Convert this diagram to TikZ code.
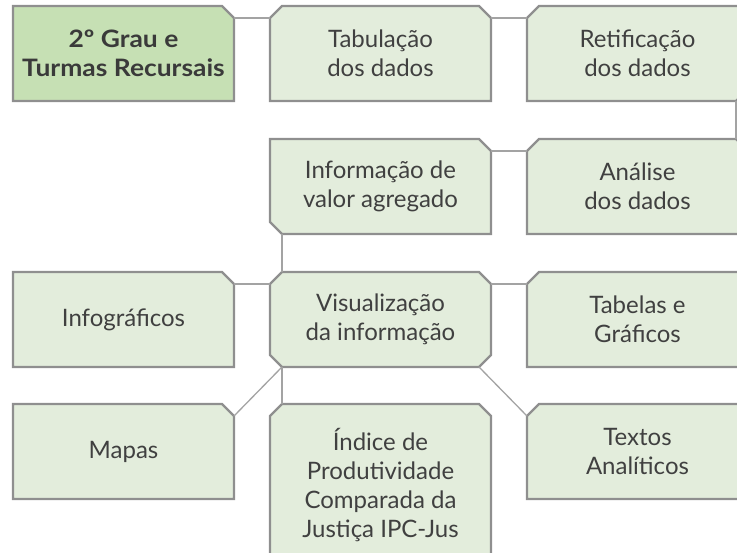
\documentclass[tikz,border=0pt]{standalone}
\usepackage{fontspec}
\setmainfont{Lato}
\newfontfamily\startfont[FakeStretch=1.1]{Lato Bold}
\usepackage{tikz}
\usetikzlibrary{positioning, calc, backgrounds}

\definecolor{boxfill}{HTML}{E3EDDC}
\definecolor{hifill}{HTML}{C6E0B4}
\definecolor{edgegray}{HTML}{8F8F8F}
\definecolor{linkgray}{HTML}{A3A3A3}
\definecolor{ink}{HTML}{404040}

% outline of a box with cut corners: node, then cut at nw, ne, se, sw
\newcommand{\cutbox}[6][boxfill]{%
  \begin{scope}[on background layer]
  \filldraw[fill=#1, draw=edgegray, line width=2.4pt]
    ($(#2.north west)+(0,-#3)$) -- ($(#2.north west)+(#3,0)$) --
    ($(#2.north east)+(-#4,0)$) -- ($(#2.north east)+(0,-#4)$) --
    ($(#2.south east)+(0,#5)$) -- ($(#2.south east)+(-#5,0)$) --
    ($(#2.south west)+(#6,0)$) -- ($(#2.south west)+(0,#6)$) -- cycle;
  \end{scope}}

\begin{document}
\begin{tikzpicture}[
  every node/.style={font=\fontsize{24}{29}\selectfont, text=ink},
  stage/.style={
    rectangle, minimum width=221pt, minimum height=95pt,
    outer sep=0pt, inner sep=0pt, align=center
  },
  start/.style={stage, font=\fontsize{24}{29}\selectfont\startfont, text=ink!90!black},
  link/.style={draw=linkgray, line width=1.3pt}
]
\useasboundingbox (0,0) rectangle (737pt,-553pt);
\clip (0,0) rectangle (737pt,-553pt);

% --- Row 1 ---
\node[start, anchor=north west] (grau) at (13pt,-6pt) {2º Grau e\\Turmas Recursais};
\node[stage, right=36pt of grau] (tab) {Tabulação\\dos dados};
\node[stage, right=36pt of tab] (ret) {Retificação\\dos dados};

% --- Row 2 ---
\node[stage, below=38pt of tab] (info) {Informação de\\valor agregado};
\node[stage, right=36pt of info] (ana) {Análise\\dos dados};

% --- Row 3 ---
\node[stage, below=38pt of info] (vis) {Visualização\\da informação};
\node[stage, left=36pt of vis] (infog) {Infográficos};
\node[stage, right=36pt of vis] (tabgraf) {Tabelas e\\Gráficos};

% --- Row 4 ---
\node[stage, below=37pt of vis, minimum height=162pt] (indice)
  {Índice de\\Produtividade\\Comparada da\\Justiça IPC-Jus};
\node[stage, below=37pt of infog] (mapas) {Mapas};
\node[stage, below=37pt of tabgraf] (textos) {Textos\\Analíticos};

% --- Outlines (nw, ne, se, sw) ---
\cutbox[hifill]{grau}{0pt}{12pt}{0pt}{0pt}
\cutbox{tab}{12pt}{12pt}{0pt}{0pt}
\cutbox{ret}{12pt}{0pt}{12pt}{0pt}
\cutbox{info}{0pt}{12pt}{0pt}{12pt}
\cutbox{ana}{12pt}{12pt}{0pt}{0pt}
\cutbox{vis}{12pt}{12pt}{12pt}{12pt}
\cutbox{infog}{0pt}{12pt}{0pt}{0pt}
\cutbox{tabgraf}{12pt}{0pt}{0pt}{0pt}
\cutbox{indice}{12pt}{12pt}{0pt}{0pt}
\cutbox{mapas}{0pt}{12pt}{0pt}{0pt}
\cutbox{textos}{12pt}{0pt}{0pt}{0pt}

% --- Connectors ---
\draw[link] ($(grau.north east)+(0,-12pt)$) -- ($(tab.north west)+(0,-12pt)$);
\draw[link] ($(tab.north east)+(0,-12pt)$) -- ($(ret.north west)+(0,-12pt)$);
\draw[link] ($(ret.south east)+(-12pt,0)$) -- ($(ana.north east)+(-12pt,0)$);
\draw[link] ($(info.north east)+(0,-12pt)$) -- ($(ana.north west)+(0,-12pt)$);
\draw[link] ($(info.south west)+(12pt,0)$) -- ($(vis.north west)+(12pt,0)$);
\draw[link] ($(infog.north east)+(0,-12pt)$) -- ($(vis.north west)+(0,-12pt)$);
\draw[link] ($(vis.north east)+(0,-12pt)$) -- ($(tabgraf.north west)+(0,-12pt)$);
\draw[link] ($(vis.south west)+(12pt,0)$) -- ($(mapas.north east)+(0,-12pt)$);
\draw[link] ($(vis.south west)+(12pt,0)$) -- ($(indice.north west)+(12pt,0)$);
\draw[link] ($(vis.south east)+(-12pt,0)$) -- ($(textos.north west)+(0,-12pt)$);

\end{tikzpicture}
\end{document}
